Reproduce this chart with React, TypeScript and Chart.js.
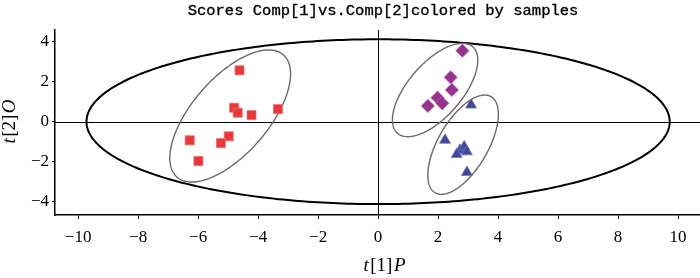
import React, { useEffect, useRef } from "react";
import { Chart, registerables } from "chart.js";

Chart.register(...registerables);

// ---- data ----
const titleText = "Scores Comp[1]vs.Comp[2]colored by samples";
const xTitleParts = ["t", "[1]", "P"];
const yTitleParts = ["t", "[2]", "O"];

const xTicks = [-10, -8, -6, -4, -2, 0, 2, 4, 6, 8, 10];
const yTicks = [-4, -2, 0, 2, 4];
const xRange = [-10.77, 10.73];
const yRange = [-4.665, 4.585];

const squaresX = [-4.62, -4.8, -4.68, -4.22, -3.34, -6.28, -4.98, -5.24, -5.99];
const squaresY = [2.57, 0.7, 0.45, 0.33, 0.63, -0.93, -0.73, -1.07, -1.97];

const diamondsX = [2.81, 2.42, 2.46, 1.98, 2.14, 1.66];
const diamondsY = [3.55, 2.22, 1.59, 1.2, 0.92, 0.79];

const trianglesX = [3.1, 2.23, 2.73, 2.87, 2.62, 2.96, 2.96];
const trianglesY = [0.84, -0.92, -1.42, -1.25, -1.63, -1.5, -2.53];

// Hotelling T2 ellipse: cx, cy, rx, ry (data units)
const hotellingEllipse = [0, 0, 9.72, 4.12];
// group ellipses: cx, cy, ux, uy, vx, vy (conjugate half-axes, data units)
const squaresEllipse = [-4.93, 0.285, 1.771, 3.058, 0.956, -1.246];
const diamondsEllipse = [1.9, 1.585, 1.253, 2.163, 0.674, -0.879];
const trianglesEllipse = [2.833, -1.15, 0.932, 2.402, 0.717, -0.626];

const toPoints = (xs: number[], ys: number[]) => xs.map((x, i) => ({ x, y: ys[i] }));
const fmt = (v: number) => (v < 0 ? "\u2212" + Math.abs(v) : String(v));

const overlayPlugin = {
  id: "overlay",
  beforeDatasetsDraw(chart: any) {
    const { ctx, chartArea, scales } = chart;
    const xs = scales.x;
    const ys = scales.y;
    ctx.save();
    ctx.beginPath();
    ctx.rect(chartArea.left, chartArea.top, chartArea.right - chartArea.left, chartArea.bottom - chartArea.top);
    ctx.clip();

    const x0 = Math.round(xs.getPixelForValue(0)) + 0.5;
    const y0 = Math.round(ys.getPixelForValue(0)) + 0.5;
    ctx.strokeStyle = "#000";
    ctx.lineWidth = 1;
    ctx.beginPath();
    ctx.moveTo(chartArea.left, y0);
    ctx.lineTo(chartArea.right, y0);
    ctx.moveTo(x0, chartArea.top);
    ctx.lineTo(x0, chartArea.bottom);
    ctx.stroke();

    const [hcx, hcy, hrx, hry] = hotellingEllipse;
    ctx.beginPath();
    for (let i = 0; i <= 360; i++) {
      const p = (i / 360) * Math.PI * 2;
      const px = xs.getPixelForValue(hcx + hrx * Math.cos(p));
      const py = ys.getPixelForValue(hcy + hry * Math.sin(p));
      if (i === 0) ctx.moveTo(px, py);
      else ctx.lineTo(px, py);
    }
    ctx.closePath();
    ctx.lineWidth = 2;
    ctx.strokeStyle = "#000";
    ctx.stroke();

    for (const e of [squaresEllipse, diamondsEllipse, trianglesEllipse]) {
      const [cx, cy, ux, uy, vx, vy] = e;
      ctx.beginPath();
      for (let i = 0; i <= 360; i++) {
        const p = (i / 360) * Math.PI * 2;
        const c = Math.cos(p);
        const s = Math.sin(p);
        const px = xs.getPixelForValue(cx + ux * c + vx * s);
        const py = ys.getPixelForValue(cy + uy * c + vy * s);
        if (i === 0) ctx.moveTo(px, py);
        else ctx.lineTo(px, py);
      }
      ctx.closePath();
      ctx.lineWidth = 1.4;
      ctx.strokeStyle = "#6e6a66";
      ctx.stroke();
    }
    ctx.restore();
  },
  afterDraw(chart: any) {
    const { ctx } = chart;
    ctx.save();
    ctx.fillStyle = "#000";
    ctx.font = '15.5px "Liberation Mono"';
    ctx.textAlign = "center";
    ctx.textBaseline = "middle";
    ctx.fillText(titleText, 383, 11);
    ctx.strokeStyle = "#000";
    ctx.lineWidth = 0.35;
    ctx.strokeText(titleText, 383, 11);

    const drawParts = (parts: string[], cx: number, cy: number, rotate: boolean) => {
      ctx.save();
      ctx.translate(cx, cy);
      if (rotate) ctx.rotate(-Math.PI / 2);
      const fonts = ['italic 19px "Liberation Serif"', '19px "Liberation Serif"', 'italic 19px "Liberation Serif"'];
      const gap = 1.5;
      let total = 0;
      const widths = parts.map((p, i) => {
        ctx.font = fonts[i];
        const w = ctx.measureText(p).width;
        total += w;
        return w;
      });
      total += gap * (parts.length - 1);
      let x = -total / 2;
      ctx.textAlign = "left";
      ctx.textBaseline = "middle";
      parts.forEach((p, i) => {
        ctx.font = fonts[i];
        ctx.fillText(p, x, 0);
        x += widths[i] + gap;
      });
      ctx.restore();
    };
    drawParts(xTitleParts, 384.5, 266, false);
    drawParts(yTitleParts, 10, 121.5, true);
    ctx.restore();
  },
};

export default function App() {
  const canvasRef = useRef<HTMLCanvasElement | null>(null);

  useEffect(() => {
    document.body.style.margin = "0";
    const canvas = canvasRef.current;
    if (!canvas) return;
    const chart = new Chart(canvas, {
      type: "scatter",
      data: {
        datasets: [
          {
            label: "A",
            data: toPoints(squaresX, squaresY),
            pointStyle: "rect",
            pointRadius: 6.4,
            backgroundColor: "#e8383b",
            borderColor: "rgba(240,110,110,0.8)",
            borderWidth: 1,
          },
          {
            label: "B",
            data: toPoints(diamondsX, diamondsY),
            pointStyle: "rectRot",
            pointRadius: 6.6,
            backgroundColor: "#98308f",
            borderColor: "rgba(180,100,170,0.8)",
            borderWidth: 1,
          },
          {
            label: "C",
            data: toPoints(trianglesX, trianglesY),
            pointStyle: "triangle",
            pointRadius: 6.3,
            backgroundColor: "#40489b",
            borderColor: "rgba(110,115,180,0.8)",
            borderWidth: 1,
          },
        ],
      },
      options: {
        animation: false,
        responsive: false,
        maintainAspectRatio: false,
        layout: { autoPadding: false, padding: { top: 30, right: 0, left: 0, bottom: 0 } },
        plugins: { legend: { display: false }, tooltip: { enabled: false }, title: { display: false } },
        scales: {
          x: {
            type: "linear",
            min: xRange[0],
            max: xRange[1],
            afterBuildTicks: (s: any) => {
              s.ticks = xTicks.map((v) => ({ value: v }));
            },
            afterFit: (s: any) => {
              s.height = 63;
              s.paddingLeft = 0;
              s.paddingRight = 0;
            },
            border: { display: true, color: "#000", width: 1.5 },
            grid: { display: true, drawOnChartArea: false, drawTicks: true, tickLength: 4, color: "#000", lineWidth: 1 },
            ticks: {
              font: { family: "Liberation Serif", size: 17 },
              color: "#000",
              padding: 8,
              maxRotation: 0,
              autoSkip: false,
              callback: (v: any) => fmt(Number(v)),
            },
          },
          y: {
            type: "linear",
            min: yRange[0],
            max: yRange[1],
            afterBuildTicks: (s: any) => {
              s.ticks = yTicks.map((v) => ({ value: v }));
            },
            afterFit: (s: any) => {
              s.width = 55;
              s.paddingTop = 0;
              s.paddingBottom = 0;
            },
            border: { display: true, color: "#000", width: 1.5 },
            grid: { display: true, drawOnChartArea: false, drawTicks: true, tickLength: 3, color: "#000", lineWidth: 1 },
            ticks: {
              font: { family: "Liberation Serif", size: 17 },
              color: "#000",
              padding: 3,
              autoSkip: false,
              callback: (v: any) => fmt(Number(v)),
            },
          },
        },
      },
      plugins: [overlayPlugin],
    } as any);
    return () => chart.destroy();
  }, []);

  return (
    <div style={{ width: 700, height: 278, background: "#fff" }}>
      <canvas ref={canvasRef} width={700} height={278} style={{ display: "block" }} />
    </div>
  );
}
